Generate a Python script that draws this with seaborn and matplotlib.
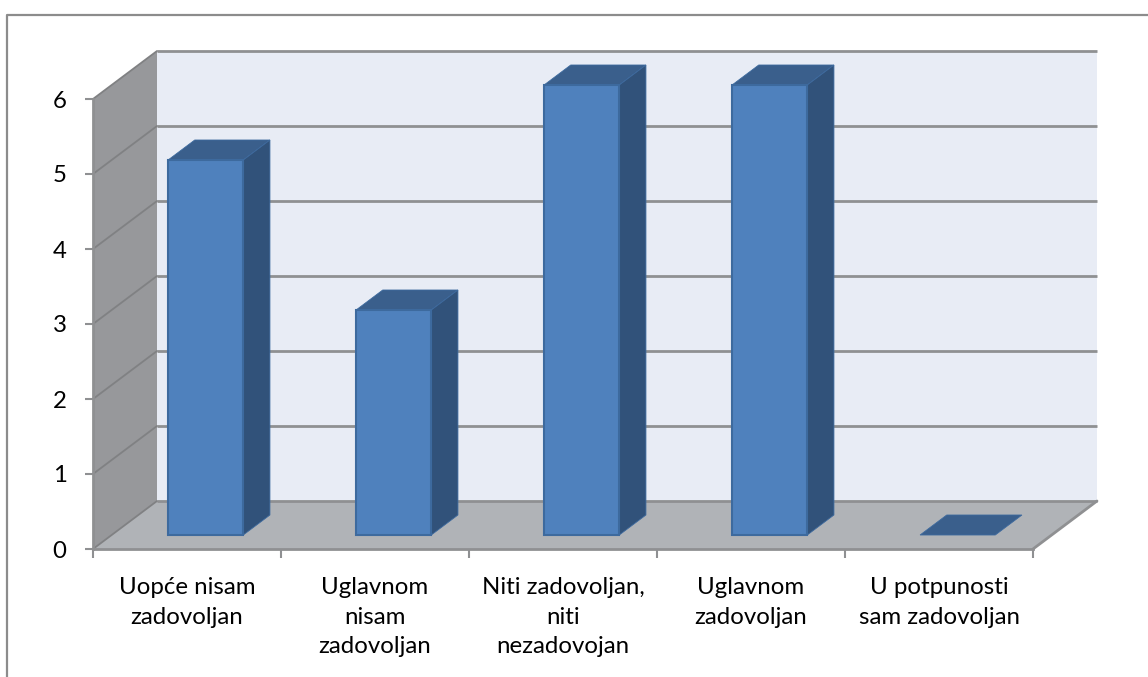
import seaborn as sns
import matplotlib.pyplot as plt
from matplotlib.lines import Line2D

# data
categories = ['Uopće nisam\nzadovoljan', 'Uglavnom\nnisam\nzadovoljan',
              'Niti zadovoljan,\nniti\nnezadovojan', 'Uglavnom\nzadovoljan',
              'U potpunosti\nsam zadovoljan']
values = [5, 3, 6, 6, 0]
y_ticks = [0, 1, 2, 3, 4, 5, 6]

# colours
wall_back = '#e8ecf5'
wall_side = '#97989b'
floor_col = '#b0b3b7'
grid_col = '#8f9092'
side_grid = '#808183'
face_col = '#4f81bd'
edge_col = '#3d6a9e'
top_col = '#3a5f8c'
side_col = '#31527a'

sns.set_theme(style='ticks')
plt.rcParams['font.family'] = ['Lato', 'DejaVu Sans']

fig = plt.figure(figsize=(11.48, 6.77), dpi=100)
ax = fig.add_axes([93 / 1148, 128 / 677, 940 / 1148, 450 / 677])

# oblique depth of the box, in data units
DX = 64 / 188
DY = 48 / 75
BAR_FRONT = 14 / 48
BAR_BACK = 34 / 48


def deep(x, y, d):
    return x + DX * d, y + DY * d


def poly(points, color, z, edge='none', lw=0):
    xs, ys = zip(*points)
    ax.fill(xs, ys, facecolor=color, edgecolor=edge, linewidth=lw,
            zorder=z, clip_on=False)


x0, x1 = -0.5, 4.5
top = y_ticks[-1]

sns.barplot(x=categories, y=values, width=0.4, color=face_col, saturation=1,
            edgecolor=edge_col, linewidth=1.5, ax=ax, zorder=5, clip_on=False)
ax.set_xlim(x0, x1)
ax.set_ylim(0, top)

# walls and floor
poly([(x0, 0), deep(x0, 0, 1), deep(x0, top, 1), (x0, top)], wall_side, 1)
poly([deep(x0, 0, 1), deep(x1, 0, 1), deep(x1, top, 1), deep(x0, top, 1)], wall_back, 1)
poly([(x0, 0), (x1, 0), deep(x1, 0, 1), deep(x0, 0, 1)], floor_col, 1.5)

# gridlines on back and side wall
for t in y_ticks:
    bx0, by = deep(x0, t, 1)
    bx1, _ = deep(x1, t, 1)
    ax.plot([bx0, bx1], [by, by], color=grid_col, lw=2, zorder=2,
            clip_on=False, solid_capstyle='butt')
    if t > 0:
        ax.plot([x0, bx0], [t, by], color=side_grid, lw=1.3, zorder=2, clip_on=False)
ax.plot([x0, deep(x0, 0, 1)[0]], [0, DY], color=side_grid, lw=1.3, zorder=2, clip_on=False)
ax.plot([x1, deep(x1, 0, 1)[0]], [0, DY], color=grid_col, lw=2, zorder=2, clip_on=False)

# bars: seaborn draws the front faces, move them into the box and add top + side
for p in ax.patches:
    if p.get_zorder() != 5:
        continue
    h = p.get_height()
    left = p.get_x() + DX * BAR_FRONT
    right = left + p.get_width()
    base = DY * BAR_FRONT
    p.set_x(left)
    p.set_y(base)
    d = BAR_BACK - BAR_FRONT
    t = base + h
    poly([(left, t), (right, t), (right + DX * d, t + DY * d), (left + DX * d, t + DY * d)],
         top_col, 4, edge_col, 0.6)
    if h > 0:
        poly([(right, base), (right + DX * d, base + DY * d),
              (right + DX * d, t + DY * d), (right, t)], side_col, 4, edge_col, 0.6)
    else:
        p.set_visible(False)

# axes
for side in ['top', 'right']:
    ax.spines[side].set_visible(False)
for side in ['left', 'bottom']:
    ax.spines[side].set_color(grid_col)
    ax.spines[side].set_linewidth(2)
    ax.spines[side].set_zorder(3)
ax.set_yticks(y_ticks)
ax.set_xticks([i + 0.5 for i in range(-1, 5)], minor=True)
ax.tick_params(axis='x', which='major', length=0, pad=20, labelsize=17.3, labelcolor='black')
ax.tick_params(axis='x', which='minor', length=6.5, width=1.5, color=grid_col)
ax.tick_params(axis='y', length=6, width=1.5, color=grid_col, pad=13, labelsize=17.3, labelcolor='black')
for lab in ax.get_xticklabels():
    lab.set_linespacing(1.52)
ax.set_xlabel('')
ax.set_ylabel('')

# outer frame, only top and left are in the picture
fig.add_artist(Line2D([7 / 1148, 7 / 1148, 1], [0, 1 - 15 / 677, 1 - 15 / 677],
                      color='#8c8c8c', lw=1.6))

fig.savefig('out.png', dpi=100)
